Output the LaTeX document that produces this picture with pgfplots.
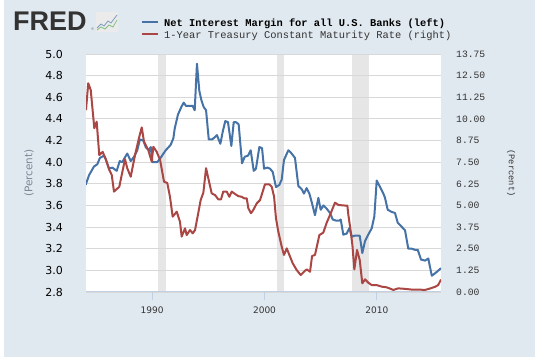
\documentclass[border=0pt]{standalone}
\usepackage{fontspec}
\usepackage{pgfplots}
\pgfplotsset{compat=1.18}
\setmainfont{DejaVu Sans}
\newfontfamily\monofont{Liberation Mono}
\newfontfamily\logofont{Liberation Sans}
\definecolor{bgpanel}{HTML}{E1E9F0}
\definecolor{nimblue}{HTML}{4572A7}
\definecolor{tsyred}{HTML}{AA4643}
\definecolor{gridgray}{HTML}{D8D8D8}
\definecolor{recgray}{HTML}{E6E6E6}
\definecolor{axisblue}{HTML}{C0D0E0}
\definecolor{labgray}{HTML}{7F8595}
\definecolor{txtdark}{HTML}{333333}
\pgfplotsset{base/.style={scale only axis, width=355bp, height=238bp,
  at={(86bp,71bp)}, anchor=south west, xmin=1984.12, xmax=2015.70}}
\begin{document}
\begin{tikzpicture}
\path[use as bounding box] (0,0) rectangle (535bp,363bp);
\fill[bgpanel] (4bp,6bp) rectangle (535bp,363bp);
\fill[white] (86bp,71bp) rectangle (441bp,309bp);
% recession bands
\begin{axis}[base, ymin=0, ymax=1, hide axis]
\addplot[fill=recgray, draw=none] coordinates {(1990.55,1) (1991.20,1)} \closedcycle;
\addplot[fill=recgray, draw=none] coordinates {(2001.14,1) (2001.76,1)} \closedcycle;
\addplot[fill=recgray, draw=none] coordinates {(2007.81,1) (2009.32,1)} \closedcycle;
\end{axis}
% left axis
\begin{axis}[base, ymin=2.8, ymax=5.0,
  axis x line*=bottom, axis y line*=left,
  x axis line style={axisblue, line width=1bp, -},
  y axis line style={draw=none},
  ymajorgrids, grid style={gridgray, line width=0.9bp},
  xtick={1990,2000,2010}, xticklabels={1990,2000,2010},
  tick align=outside, major tick length=8bp,
  xtick style={axisblue, line width=1bp},
  ytick style={draw=none},
  ytick={2.8,3.0,3.2,3.4,3.6,3.8,4.0,4.2,4.4,4.6,4.8,5.0},
  yticklabels={2.8,3.0,3.2,3.4,3.6,3.8,4.0,4.2,4.4,4.6,4.8,5.0},
  yticklabel style={font=\fontsize{11bp}{12bp}\selectfont, text=black, inner sep=0pt, xshift=-15bp},
  xticklabel style={font=\fontsize{9bp}{10bp}\selectfont, text=txtdark, inner sep=0pt, yshift=-6.5bp},
  clip=true]
\addplot[nimblue, line width=2bp, line join=round] coordinates {
(1984.09,3.79) (1984.39,3.88) (1984.83,3.96) (1985.12,3.98) (1985.36,4.04) (1985.72,4.06)
(1985.87,4.03) (1986.17,3.94) (1986.46,3.95) (1986.85,3.92) (1987.12,4.01) (1987.35,4.00)
(1987.56,4.04) (1987.79,4.08) (1988.10,4.01) (1988.39,4.05) (1988.68,4.11) (1988.92,4.21)
(1989.22,4.20) (1989.43,4.14) (1989.72,4.11) (1989.88,4.14) (1990.02,4.00) (1990.46,4.00)
(1990.82,4.05) (1991.21,4.11) (1991.65,4.16) (1991.89,4.22) (1992.01,4.31) (1992.30,4.44)
(1992.60,4.51) (1992.81,4.55) (1993.02,4.52) (1993.42,4.52) (1993.61,4.52) (1993.79,4.48)
(1993.99,4.91) (1994.20,4.66) (1994.38,4.575) (1994.59,4.51) (1994.80,4.48) (1995.04,4.21)
(1995.33,4.21) (1995.57,4.23) (1995.77,4.25) (1996.07,4.17) (1996.28,4.28) (1996.51,4.38)
(1996.75,4.37) (1997.05,4.15) (1997.26,4.37) (1997.46,4.37) (1997.70,4.35) (1998.00,3.99)
(1998.24,4.05) (1998.53,4.06) (1998.77,4.11) (1999.04,3.92) (1999.24,3.94) (1999.54,4.14)
(1999.78,4.13) (1999.96,3.94) (2000.25,3.95) (2000.49,3.94) (2000.73,3.91) (2001.02,3.77)
(2001.32,3.79) (2001.53,3.84) (2001.73,4.02) (2002.12,4.11) (2002.33,4.09) (2002.56,4.06)
(2002.71,4.04) (2003.01,3.78) (2003.31,3.75) (2003.51,3.71) (2003.75,3.76) (2003.99,3.71)
(2004.20,3.63) (2004.49,3.51) (2004.79,3.67) (2005.00,3.56) (2005.23,3.60) (2005.53,3.57)
(2005.83,3.53) (2006.07,3.47) (2006.36,3.46) (2006.65,3.46) (2006.78,3.47) (2007.01,3.33)
(2007.31,3.34) (2007.54,3.39) (2007.78,3.31) (2008.00,3.32) (2008.23,3.32) (2008.47,3.32)
(2008.70,3.16) (2008.94,3.27) (2009.23,3.33) (2009.54,3.39) (2009.77,3.50) (2009.98,3.83)
(2010.28,3.77) (2010.57,3.71) (2010.72,3.67) (2010.96,3.56) (2011.32,3.54) (2011.61,3.53)
(2011.85,3.44) (2012.14,3.41) (2012.50,3.37) (2012.79,3.20) (2013.10,3.20) (2013.39,3.19)
(2013.63,3.19) (2013.92,3.10) (2014.28,3.09) (2014.57,3.11) (2014.88,2.95) (2015.26,2.98)
(2015.70,3.02)};
\end{axis}
% right axis
\begin{axis}[base, ymin=0, ymax=13.75,
  axis x line=none, axis y line*=right,
  y axis line style={draw=none}, ytick style={draw=none},
  ytick={0,1.25,2.5,3.75,5,6.25,7.5,8.75,10,11.25,12.5,13.75},
  yticklabels={0.00,1.25,2.50,3.75,5.00,6.25,7.50,8.75,10.00,11.25,12.50,13.75},
  yticklabel style={font=\monofont\fontsize{9.7bp}{10bp}\selectfont, text=txtdark, inner sep=0pt, anchor=west, xshift=15bp}]
\addplot[tsyred, line width=2bp, line join=round] coordinates {
(1984.12,10.51) (1984.32,12.06) (1984.54,11.67) (1984.86,9.46) (1985.07,9.84) (1985.30,7.91)
(1985.60,8.10) (1985.90,7.63) (1986.19,7.05) (1986.41,6.76) (1986.61,5.80) (1987.08,6.08)
(1987.59,7.67) (1987.79,7.15) (1988.10,6.66) (1988.48,7.91) (1988.86,8.97) (1989.08,9.51)
(1989.28,8.68) (1989.66,8.20) (1989.97,7.53) (1990.11,8.39) (1990.41,8.10) (1990.71,7.63)
(1991.06,6.37) (1991.35,6.30) (1991.59,5.50) (1991.83,4.35) (1992.19,4.64) (1992.48,4.06)
(1992.63,3.20) (1992.93,3.68) (1993.08,3.29) (1993.37,3.58) (1993.61,3.39) (1993.82,3.58)
(1994.02,4.26) (1994.32,5.31) (1994.56,5.74) (1994.80,7.15) (1995.00,6.57) (1995.30,5.70)
(1995.60,5.60) (1995.89,5.35) (1996.13,5.35) (1996.33,5.80) (1996.64,5.80) (1996.87,5.50)
(1997.08,5.80) (1997.38,5.66) (1997.67,5.54) (1997.97,5.50) (1998.20,5.41) (1998.42,5.41)
(1998.56,4.84) (1998.80,4.55) (1999.00,4.74) (1999.31,5.12) (1999.60,5.31) (1999.84,5.80)
(2000.04,6.22) (2000.43,6.22) (2000.64,6.08) (2000.85,5.51) (2001.02,4.26) (2001.23,3.48)
(2001.53,2.62) (2001.73,2.14) (2001.98,2.52) (2002.21,2.14) (2002.51,1.66) (2002.86,1.27)
(2003.22,0.98) (2003.51,1.17) (2003.75,1.31) (2004.05,1.17) (2004.23,2.08) (2004.49,2.14)
(2004.88,3.29) (2005.23,3.43) (2005.53,4.00) (2005.89,4.55) (2006.27,5.16) (2006.57,5.03)
(2007.01,5.00) (2007.37,4.99) (2007.46,4.45) (2007.65,3.60) (2007.82,2.70) (2007.99,1.30)
(2008.23,2.43) (2008.47,1.85) (2008.70,0.50) (2008.94,0.73) (2009.23,0.54) (2009.54,0.40)
(2009.98,0.40) (2010.42,0.31) (2010.87,0.27) (2011.46,0.12) (2011.90,0.21) (2012.50,0.18)
(2013.10,0.14) (2013.65,0.14) (2014.28,0.12) (2014.72,0.20) (2015.17,0.30) (2015.45,0.40)
(2015.70,0.72)};
\end{axis}
% axis titles
\node[rotate=90, text=labgray, font=\fontsize{10.5bp}{12bp}\selectfont] at (29bp,190bp) {(Percent)};
\node[rotate=-90, text=txtdark, font=\monofont\fontsize{8.7bp}{10bp}\selectfont] at (511bp,190bp) {(Percent)};
% logo
\node[anchor=base west, inner sep=0pt, text=txtdark, font=\logofont\bfseries\fontsize{27bp}{28bp}\selectfont] at (13bp,332bp) {FRED};
\node[anchor=base west, inner sep=0pt, text=gray, font=\logofont\fontsize{4bp}{5bp}\selectfont] at (91bp,332bp) {\textregistered};
\fill[black!8] (96bp,331bp) rectangle (118bp,351bp);
\draw[nimblue!70, line width=0.8bp] (97bp,335bp) -- (101bp,339bp) -- (104bp,337bp) -- (108bp,342bp) -- (111bp,340bp) -- (117bp,348bp);
\draw[green!50!black!50, line width=0.8bp] (97bp,333bp) -- (101bp,336bp) -- (105bp,334bp) -- (109bp,338bp) -- (113bp,336bp) -- (117bp,343bp);
% legend
\draw[nimblue, line width=2bp] (142bp,341.4bp) -- (158bp,341.4bp);
\draw[tsyred, line width=2bp] (142bp,329.4bp) -- (158bp,329.4bp);
\node[anchor=base west, inner sep=0pt, text=black, font=\monofont\bfseries\fontsize{10.4bp}{11bp}\selectfont] at (164bp,336.5bp) {Net Interest Margin for all U.S. Banks (left)};
\node[anchor=base west, inner sep=0pt, text=txtdark, font=\monofont\fontsize{10.4bp}{11bp}\selectfont] at (164bp,324.7bp) {1-Year Treasury Constant Maturity Rate (right)};
\end{tikzpicture}
\end{document}
